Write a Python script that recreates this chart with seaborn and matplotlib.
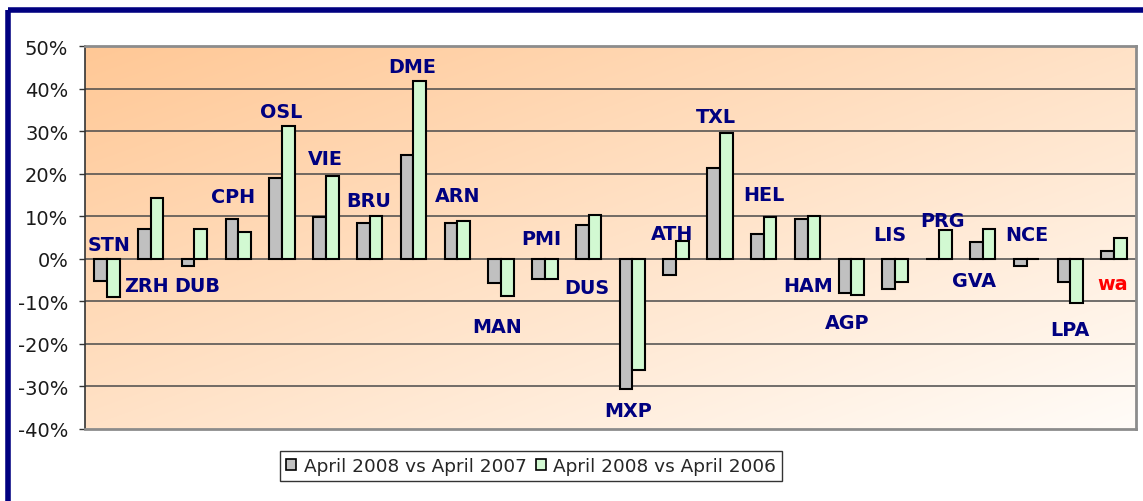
import numpy as np
import pandas as pd
import matplotlib
matplotlib.use("Agg")
import matplotlib.pyplot as plt
from matplotlib.lines import Line2D
from matplotlib.ticker import PercentFormatter
import seaborn as sns

# ---------------- data ----------------
airports = ["STN", "ZRH", "DUB", "CPH", "OSL", "VIE", "BRU", "DME", "ARN", "MAN",
            "PMI", "DUS", "MXP", "ATH", "TXL", "HEL", "HAM", "AGP", "LIS", "PRG",
            "GVA", "NCE", "LPA", "wa"]
vs_2007 = [-5.3, 7.1, -1.8, 9.3, 19.0, 9.7, 8.4, 24.4, 8.4, -5.7,
           -4.8, 8.0, -30.6, -3.9, 21.3, 5.8, 9.3, -8.1, -7.1, 0.0,
           4.0, -1.8, -5.4, 1.8]
vs_2006 = [-8.9, 14.2, 7.1, 6.2, 31.1, 19.5, 10.1, 41.7, 8.8, -8.8,
           -4.7, 10.2, -26.1, 4.1, 29.6, 9.7, 10.1, -8.5, -5.4, 6.7,
           7.1, 0.0, -10.4, 4.9]
series_names = ["April 2008 vs April 2007", "April 2008 vs April 2006"]
y_ticks = [-40, -30, -20, -10, 0, 10, 20, 30, 40, 50]

# ---------------- layout of the airport labels (baseline in %, x offset in groups) ----------------
label_base = [2.1, -7.6, -7.6, 13.3, 33.3, 22.3, 12.3, 43.9, 13.5, -17.1,
              3.5, -8.1, -37.0, 4.6, 32.2, 13.9, -7.6, -16.2, 4.5, 7.8,
              -6.4, 4.4, -17.9, -7.0]
label_dx = [0.05, -0.09, 0.06, -0.12, -0.02, 0.0, -0.02, -0.03, 0.0, -0.10,
            -0.07, -0.04, -0.10, -0.10, -0.10, 0.0, 0.01, -0.09, -0.12, 0.09,
            -0.20, 0.0, 0.0, -0.04]

df = pd.DataFrame({
    "airport": airports * 2,
    "value": vs_2007 + vs_2006,
    "series": [series_names[0]] * len(airports) + [series_names[1]] * len(airports),
})

sns.set_style("white")
plt.rcParams["font.family"] = ["DejaVu Sans"]
plt.rcParams["axes.unicode_minus"] = False

W, H = 1143, 502
fig = plt.figure(figsize=(W / 100, H / 100), dpi=100)
fig.patch.set_facecolor("white")
ax = fig.add_axes([85 / W, 1 - 430 / H, 1051 / W, 383 / H])

# gradient background (diagonal, orange top-left -> near white bottom-right)
nx, ny = 200, 100
u = np.linspace(0, 1, nx)[None, :]
v = np.linspace(0, 1, ny)[:, None]  # 0 at top
t = (u + v) / 2
c0 = np.array([255, 200, 150]) / 255
c1 = np.array([255, 252, 248]) / 255
img = c0[None, None, :] * (1 - t[..., None]) + c1[None, None, :] * t[..., None]
ax.imshow(img, extent=[0, 1, 0, 1], transform=ax.transAxes, aspect="auto",
          zorder=0, interpolation="bilinear")

sns.barplot(data=df, x="airport", y="value", hue="series", order=airports,
            hue_order=series_names, palette=["#C0C0C0", "#CCFFCC"],
            width=0.58, gap=0, edgecolor="black", linewidth=1.5,
            errorbar=None, ax=ax, zorder=3)

ax.set_ylim(-40, 50)
ax.set_xlim(-0.5, len(airports) - 0.5)
ax.set_yticks(y_ticks)
ax.yaxis.set_major_formatter(PercentFormatter(decimals=0))
ax.set_xticks([])
ax.set_xlabel("")
ax.set_ylabel("")
for yv in y_ticks[1:-1]:
    ax.axhline(yv, color="#4a4a4a", lw=1.1, zorder=1)
ax.tick_params(axis="y", left=True, direction="out", length=4, width=1,
               color="#333333", pad=8, labelsize=14, labelcolor="#1a1a1a")
ax.spines["left"].set_color("#333333")
ax.spines["left"].set_linewidth(1.2)
for s in ["top", "right", "bottom"]:
    ax.spines[s].set_color("#8c8c8c")
    ax.spines[s].set_linewidth(2)
    ax.spines[s].set_visible(True)

# airport labels
for i, name in enumerate(airports):
    col = "#FF0000" if name == "wa" else "#000080"
    ax.text(i + label_dx[i], label_base[i], name, ha="center", va="baseline",
            fontsize=13.8, fontweight="bold", color=col, zorder=5)

# legend
handles, labels = ax.get_legend_handles_labels()
leg = ax.legend(handles, labels, loc="center", ncol=2,
                bbox_to_anchor=(531 / W, 1 - 467 / H), bbox_transform=fig.transFigure,
                fontsize=13.3, frameon=True, fancybox=False, shadow=False,
                handlelength=0.55, handleheight=0.6, handletextpad=0.38,
                columnspacing=0.5, borderpad=0.35, borderaxespad=0)
leg.get_frame().set_edgecolor("black")
leg.get_frame().set_linewidth(1.0)
leg.get_frame().set_facecolor("white")
for p in leg.get_patches():
    p.set_edgecolor("black")
    p.set_linewidth(1.2)

# navy outer frame (top and left visible)
fig.add_artist(Line2D([8 / W, 1.0], [1 - 11 / H, 1 - 11 / H], transform=fig.transFigure,
                      color="#000080", lw=4.0, solid_capstyle="butt"))
fig.add_artist(Line2D([8 / W, 8 / W], [1 - 11 / H, 0.0], transform=fig.transFigure,
                      color="#000080", lw=4.0, solid_capstyle="butt"))

fig.savefig("out.png", dpi=100, facecolor="white")
